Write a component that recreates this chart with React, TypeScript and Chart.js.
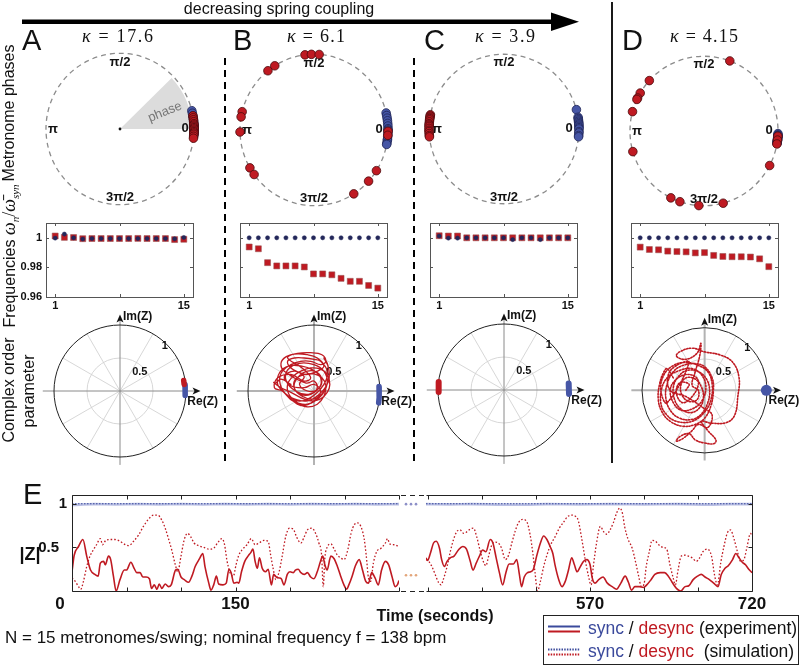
import React, { useEffect, useRef } from "react";
import { Chart, registerables } from "chart.js";

Chart.register(...registerables);

const SANS = '"Liberation Sans", Arial, Helvetica, sans-serif';
const SERIF = '"Liberation Serif", "Times New Roman", serif';
const RED = "#bf1a22";
const RED_EDGE = "#4a0a0c";
const BLUE = "#4656a6";
const BLUE_EDGE = "#1f2556";
const NAVY = "#23275a";

// ---------------- data ----------------
const METRONOMES = [1, 2, 3, 4, 5, 6, 7, 8, 9, 10, 11, 12, 13, 14, 15];
const PHASE_LABELS = ["π/2", "π", "0", "3π/2"];

// metronome phases (degrees)
const PHASE_A_SYNC = [14, 12, 10, 8, 6, 4, 3, 2, 1, 0, -1, -2, -3, -4, -5];
const PHASE_A_DESYNC = [10, 8.5, 7, 5.5, 4, 3, 2, 1, 0, -1, -2, -3, -4, -5.5, -7];
const PHASE_B_SYNC = [13, 11, 9, 7, 5, 3, 1, 0, -1, -3, -5, -7, -8, -10, -11];
const PHASE_B_DESYNC = [97, 92, 86, 128.5, 122, 166, 170, 181.5, 210, 216, 327.5, 317.5, 302.5, -1, -4];
const PHASE_C_SYNC = [15, 9, 8, 7, 6, 5, 4, 3, 2, 1, 0, -2, -3, -5, -6];
const PHASE_C_DESYNC = [169, 170, 171, 172, 173, 174.5, 176, 177, 178, 179.5, 181, 182, 183.5, 185, 186];
const PHASE_D_SYNC = [-2, -3, -3.5, -4, -4.5, -5, -5.5, -6, -6.5, -7, -7.5, -8, -8.5, -9, -9.5];
const PHASE_D_DESYNC = [69.6, 137.6, 149.5, 153.8, 155, 165, 196, 243.4, 251, 266, 285, 332.5, -4, -7, -10];

// frequencies omega_n / mean omega_sync
const FREQ_A_SYNC = [0.9998, 1.0025, 1.0, 0.9992, 0.9995, 0.9995, 0.9995, 0.9995, 0.9995, 0.9995, 0.9995, 0.9995, 0.9995, 0.9993, 1.0002];
const FREQ_A_DESYNC = [1.0012, 1.0003, 1.0002, 0.9994, 0.9995, 0.9995, 0.9995, 0.9995, 0.9995, 0.9996, 0.9995, 0.9995, 0.9995, 0.9988, 0.999];
const FREQ_B_SYNC = [1, 1, 1, 1, 1, 1, 1, 1, 1, 1, 1, 1, 1, 1, 1];
const FREQ_B_DESYNC = [0.9938, 0.9926, 0.9832, 0.981, 0.981, 0.981, 0.9803, 0.9756, 0.9756, 0.975, 0.9726, 0.9706, 0.9706, 0.9678, 0.966];
const FREQ_C_SYNC = [1.0012, 0.9998, 0.9998, 1.0, 1.0, 1.0, 1.0, 1.0, 0.9988, 1.0, 1.0, 0.9988, 1.0, 1.0, 1.0];
const FREQ_C_DESYNC = [1.0014, 1.0012, 1.0012, 1.0, 1.0, 1.0, 1.0, 1.0, 1.0, 1.0, 1.0, 1.0, 1.0, 1.0, 1.0];
const FREQ_D_SYNC = [1, 1, 1, 1, 1, 1, 1, 1, 1, 1, 1, 1, 1, 1, 1];
const FREQ_D_DESYNC = [0.9937, 0.9921, 0.9919, 0.991, 0.9907, 0.9905, 0.9898, 0.99, 0.9881, 0.9874, 0.9872, 0.9872, 0.987, 0.9858, 0.9805];
const FREQ_X_TICKS = [1, 8, 15];
const FREQ_X_LABELS = [1, 15];
const FREQ_Y_TICKS = [0.96, 0.98, 1];
const FREQ_Y_LABELS = ["0.96", "0.98", "1"];

// complex order parameter Z (Re, Im)
const ORDER_A_SYNC = [[0.985, 0.1], [0.99, 0.02], [0.985, -0.07]];
const ORDER_A_DESYNC = [[0.965, 0.16], [0.972, 0.1]];
const ORDER_B_SYNC = [[0.985, 0.07], [0.99, 0.0], [0.985, -0.1], [0.98, -0.18]];
const ORDER_B_DESYNC = [
  [-0.35, 0.1], [-0.5, 0.18], [-0.58, 0.12], [-0.61, 0.13], [-0.5, 0.05], [-0.35, -0.02], [-0.2, -0.1], [-0.05, -0.15],
  [0.1, -0.12], [0.2, -0.02], [0.24, 0.1], [0.2, 0.25], [0.1, 0.33], [-0.05, 0.35], [-0.2, 0.3], [-0.32, 0.22],
  [-0.4, 0.1], [-0.38, -0.05], [-0.25, -0.18], [-0.1, -0.24], [0.05, -0.2], [0.15, -0.08], [0.18, 0.08], [0.12, 0.2],
  [0.0, 0.26], [-0.15, 0.25], [-0.28, 0.18], [-0.3, 0.05], [-0.2, -0.05], [-0.05, -0.05], [0.05, 0.05], [0.0, 0.15],
  [-0.12, 0.12], [-0.45, 0.3], [-0.5, 0.42], [-0.42, 0.52], [-0.25, 0.57], [-0.05, 0.58], [0.12, 0.55], [0.18, 0.45],
  [0.1, 0.4], [-0.05, 0.45], [-0.2, 0.45], [-0.35, 0.4], [-0.48, 0.3], [-0.52, 0.15], [-0.45, -0.02], [-0.3, -0.12],
  [-0.1, -0.15], [0.08, -0.05], [0.22, 0.15], [0.22, 0.35], [0.15, 0.5], [0.2, 0.42], [0.23, 0.25], [0.15, 0.0],
  [0.0, -0.12], [-0.18, -0.08], [-0.3, 0.05], [-0.25, 0.2], [-0.1, 0.3], [0.05, 0.28], [0.12, 0.15], [0.05, 0.02],
  [-0.1, 0.0], [-0.22, 0.1], [-0.15, 0.22], [-0.35, 0.35], [-0.4, 0.45], [-0.3, 0.5], [-0.15, 0.5], [0.0, 0.48], [0.1, 0.45],
  [0.2, 0.3], [0.15, 0.1], [-0.05, -0.1], [-0.25, -0.15], [-0.42, -0.05], [-0.55, 0.1], [-0.52, 0.28], [-0.38, 0.38],
  [-0.2, 0.38], [-0.02, 0.32], [0.1, 0.2], [0.08, 0.05], [-0.08, -0.05], [-0.28, 0.0], [-0.42, 0.15], [-0.4, 0.32],
  [-0.22, 0.42], [0.0, 0.4], [0.15, 0.3], [0.2, 0.12], [0.1, -0.08], [-0.1, -0.2], [-0.32, -0.15], [-0.48, 0.0],
  [-0.6, 0.05], [-0.55, 0.2], [-0.35, 0.25], [-0.15, 0.15], [-0.05, 0.2], [-0.18, 0.35], [-0.4, 0.5], [-0.3, 0.56],
  [-0.1, 0.55], [0.05, 0.5], [0.15, 0.38], [0.05, 0.3], [-0.12, 0.25], [-0.3, 0.3], [-0.45, 0.22], [-0.35, 0.08],
  [-0.15, 0.05], [0.0, 0.1], [0.1, 0.0], [0.0, -0.15], [-0.2, -0.22], [-0.38, -0.1],
];
const ORDER_C_SYNC = [[0.98, 0.1], [0.985, -0.06]];
const ORDER_C_DESYNC = [[-0.99, 0.12], [-0.99, -0.03]];
const ORDER_D_SYNC = [[0.985, 0.0]];
const ORDER_D_DESYNC = [
  [-0.5, 0.2], [-0.6, 0.35], [-0.65, 0.3], [-0.72, 0.1], [-0.74, -0.15], [-0.68, -0.35], [-0.55, -0.5], [-0.35, -0.58],
  [-0.15, -0.55], [0.0, -0.45], [0.1, -0.25], [0.14, 0.0], [0.12, 0.2], [0.0, 0.38], [-0.15, 0.43], [-0.35, 0.4],
  [-0.5, 0.3], [-0.6, 0.1], [-0.62, -0.12], [-0.55, -0.32], [-0.4, -0.45], [-0.2, -0.47], [-0.05, -0.38], [0.05, -0.2],
  [0.08, 0.0], [0.03, 0.18], [-0.1, 0.3], [-0.28, 0.32], [-0.42, 0.22], [-0.5, 0.05], [-0.48, -0.15], [-0.38, -0.3],
  [-0.22, -0.36], [-0.08, -0.28], [-0.02, -0.12], [-0.05, 0.05], [-0.15, 0.18], [-0.3, 0.2], [-0.38, 0.08], [-0.36, -0.08],
  [-0.25, -0.18], [-0.12, -0.15], [-0.1, 0.0], [-0.2, 0.08], [-0.15, 0.3], [-0.08, 0.55], [-0.06, 0.76], [-0.12, 0.6],
  [-0.3, 0.5], [-0.45, 0.55], [-0.4, 0.62], [-0.2, 0.68], [0.0, 0.62], [0.25, 0.57], [0.45, 0.45], [0.55, 0.2],
  [0.53, -0.1], [0.48, -0.4], [0.35, -0.52], [0.1, -0.53], [-0.05, -0.5], [0.05, -0.65], [0.18, -0.8], [0.15, -0.86],
  [0.0, -0.85], [-0.15, -0.8], [-0.25, -0.7], [-0.4, -0.75], [-0.45, -0.82], [-0.35, -0.78], [-0.2, -0.65], [-0.1, -0.55],
  [0.05, -0.6], [0.12, -0.4], [0.0, -0.3], [-0.3, -0.1], [-0.55, 0.0], [-0.58, 0.25], [-0.45, 0.4], [-0.25, 0.45],
  [-0.6, -0.2], [-0.7, 0.0], [-0.65, 0.25], [-0.5, 0.4], [-0.3, 0.45], [-0.1, 0.4], [0.05, 0.3], [0.12, 0.1],
  [0.1, -0.15], [0.0, -0.35], [-0.2, -0.5], [-0.45, -0.5], [-0.62, -0.38], [-0.7, -0.2], [-0.68, 0.05], [-0.58, 0.22],
  [-0.4, 0.32], [-0.2, 0.35], [-0.05, 0.25], [0.02, 0.05], [-0.05, -0.18], [-0.2, -0.3], [-0.38, -0.32], [-0.5, -0.2],
  [-0.55, 0.0], [-0.48, 0.15], [-0.32, 0.25], [-0.15, 0.22], [-0.1, 0.1], [-0.2, -0.1], [-0.35, -0.2], [-0.45, -0.05],
  [-0.4, 0.12], [-0.25, 0.1], [-0.3, 0.0],
];
const POLAR_SPOKES = [30, 60, 120, 150, 210, 240, 300, 330];

// |Z| over time (seconds, |Z|)
const DESYNC_EXP_LEFT = [
  [0, 0.22], [2, 0.41], [6, 0.51], [10, 0.59], [13.5, 0.4], [17, 0.24], [21, 0.19], [24, 0.17], [26, 0.32], [29, 0.34],
  [30.5, 0.3], [33.5, 0.4], [35.5, 0.36], [38, 0.17], [40.5, 0.0], [44, 0.13], [48, 0.24], [50, 0.24], [54, 0.33], [57, 0.26],
  [59.5, 0.21], [62.5, 0.21], [65, 0.16], [68, 0.16], [71, 0.14], [73, 0.03], [75.5, 0.07], [78, 0.02], [80, 0.08], [82.5, 0.03],
  [85.5, 0.08], [88.5, 0.05], [91, 0.07], [95, 0.24], [97, 0.25], [100, 0.16], [103, 0.13], [107, 0.1], [110, 0.17], [113, 0.28],
  [117, 0.37], [120, 0.43], [122, 0.28], [125.5, 0.09], [127.5, 0.01], [130, 0.07], [132.5, 0.17], [134.5, 0.08], [138.5, 0.07],
  [141.5, 0.09], [144, 0.25], [146, 0.21], [148.5, 0.09], [151.5, 0.1], [153, 0.09], [155.5, 0.22], [158.5, 0.34], [161.5, 0.4],
  [164, 0.44], [166, 0.48], [168, 0.34], [170, 0.26], [172, 0.38], [174.5, 0.26], [177.5, 0.22], [180, 0.25], [183, 0.07],
  [185, 0.19], [187.5, 0.16], [190, 0.15], [192, 0.14], [194.5, 0.07], [197.5, 0.19], [200, 0.22], [203, 0.21], [205, 0.24],
  [207.5, 0.25], [210, 0.21], [213, 0.19], [216, 0.21], [219, 0.16], [222, 0.14], [225, 0.22], [228, 0.34], [230, 0.4],
  [232, 0.3], [234, 0.24], [237.5, 0.4], [240.5, 0.37], [243.5, 0.28], [246.5, 0.17], [249.5, 0.07], [252, 0.02], [254, 0.07],
  [257, 0.17], [260, 0.29], [263.5, 0.36], [266.5, 0.24], [269.5, 0.11], [272, 0.09], [275, 0.21], [278, 0.15], [281, 0.07],
  [284, 0.24], [287.5, 0.34], [290.5, 0.3], [293.5, 0.17], [296.5, 0.05], [298.5, 0.07], [300, 0.12],
];
const DESYNC_SIM_LEFT = [
  [0, 0.15], [3, 0.11], [6, 0.05], [8, 0.02], [10.5, 0.11], [13.5, 0.28], [16.5, 0.4], [19.5, 0.47], [22.5, 0.53], [26, 0.6],
  [28, 0.53], [31, 0.58], [35, 0.59], [39.5, 0.59], [44, 0.57], [49, 0.53], [52, 0.52], [56.5, 0.57], [61, 0.64], [65.5, 0.74],
  [70, 0.82], [75, 0.87], [78.5, 0.87], [82.5, 0.81], [85.5, 0.72], [88.5, 0.6], [91.5, 0.47], [95, 0.29], [97, 0.22], [100, 0.4],
  [103, 0.59], [106, 0.66], [109, 0.62], [112, 0.55], [116, 0.52], [121, 0.5], [125.5, 0.48], [130, 0.49], [133.5, 0.55],
  [137.5, 0.6], [140, 0.53], [142, 0.36], [145, 0.21], [148, 0.17], [150.5, 0.3], [153, 0.41], [156, 0.47], [160.5, 0.53],
  [164.5, 0.6], [168, 0.53], [171.5, 0.55], [176, 0.58], [180, 0.57], [182, 0.43], [184.5, 0.26], [187, 0.13], [190, 0.22],
  [193, 0.41], [196, 0.62], [199.5, 0.72], [203, 0.71], [206, 0.62], [210, 0.55], [213, 0.62], [216, 0.7], [220, 0.72],
  [223.5, 0.66], [226.5, 0.55], [229, 0.41], [230.5, 0.05], [232, 0.38], [234.5, 0.51], [237.5, 0.54], [240.5, 0.48],
  [243.5, 0.41], [246.5, 0.38], [249.5, 0.36], [253, 0.47], [256, 0.66], [259, 0.76], [262, 0.78], [265, 0.74], [268, 0.6],
  [270, 0.4], [272, 0.15], [274, 0.11], [276.5, 0.32], [279.5, 0.45], [283.5, 0.49], [287.5, 0.55], [289.5, 0.6], [291.5, 0.54],
  [295.5, 0.53], [300, 0.51],
];
const DESYNC_EXP_RIGHT = [
  [418, 0.38], [419.5, 0.35], [422, 0.43], [425, 0.55], [427.5, 0.57], [430.5, 0.49], [432.5, 0.36], [435, 0.28], [437.5, 0.34],
  [440.5, 0.38], [444, 0.4], [448, 0.47], [452, 0.51], [455.5, 0.48], [459, 0.34], [461.5, 0.24], [464.5, 0.32], [467.5, 0.4],
  [470.5, 0.47], [473.5, 0.45], [477.5, 0.59], [480, 0.55], [483, 0.38], [486, 0.21], [489, 0.07], [492, 0.21], [495, 0.31],
  [499, 0.31], [502, 0.36], [504.5, 0.19], [506.5, 0.05], [509, 0.16], [512, 0.21], [515, 0.22], [517.5, 0.25], [520.5, 0.4],
  [524, 0.55], [527, 0.63], [530, 0.59], [533, 0.51], [535.5, 0.43], [537.5, 0.3], [541, 0.13], [544, 0.05], [547, 0.11],
  [550, 0.24], [553, 0.38], [555.5, 0.3], [558, 0.22], [561, 0.28], [564, 0.34], [567, 0.36], [570, 0.3], [572, 0.15],
  [574.5, 0.09], [578, 0.13], [582, 0.16], [586, 0.09], [590.5, 0.05], [594.5, 0.02], [598.5, 0.09], [602.5, 0.17], [605.5, 0.1],
  [608.5, 0.01], [611.5, 0.05], [615.5, 0.05], [619.5, 0.04], [622.5, 0.07], [626.5, 0.13], [630, 0.19], [635, 0.21], [639, 0.21],
  [642.5, 0.17], [646, 0.1], [650, 0.03], [654, 0.0], [658, 0.05], [661.5, 0.06], [665.5, 0.13], [669.5, 0.17], [673, 0.19],
  [676.5, 0.16], [680.5, 0.13], [684.5, 0.09], [688.5, 0.05], [691.5, 0.19], [695, 0.26], [698, 0.29], [702, 0.36], [705, 0.43],
  [708, 0.38], [711, 0.33], [714, 0.3], [717, 0.25], [720, 0.21],
];
const DESYNC_SIM_RIGHT = [
  [418, 0.36], [420.5, 0.34], [423.5, 0.28], [426.5, 0.19], [429.5, 0.1], [432, 0.07], [434, 0.13], [437.5, 0.28], [440.5, 0.45],
  [443.5, 0.59], [446.5, 0.68], [449.5, 0.7], [453, 0.66], [456, 0.68], [459, 0.71], [462, 0.72], [465, 0.62], [468, 0.47],
  [471, 0.34], [473.5, 0.29], [476, 0.4], [479, 0.53], [482, 0.56], [485, 0.55], [488, 0.49], [491.5, 0.36], [494.5, 0.41],
  [497.5, 0.55], [500.5, 0.68], [503.5, 0.78], [507.5, 0.82], [511.5, 0.79], [514.5, 0.64], [517, 0.43], [519, 0.21], [521.3, 0.0],
  [524, 0.11], [527, 0.28], [530, 0.41], [533.5, 0.53], [537.5, 0.62], [541.5, 0.72], [545.5, 0.79], [549, 0.85], [553, 0.87],
  [557, 0.85], [559, 0.81], [562, 0.62], [565.5, 0.36], [568.5, 0.17], [571, 0.07], [573, 0.28], [576, 0.55], [579.5, 0.74],
  [582.5, 0.68], [585.5, 0.65], [588.5, 0.7], [591.5, 0.78], [594.5, 0.89], [597.5, 0.95], [600, 0.89], [602, 0.74], [605, 0.6],
  [609, 0.49], [612, 0.34], [615, 0.17], [617.5, 0.05], [620, 0.08], [622, 0.28], [624.5, 0.43], [627.5, 0.58], [630.5, 0.57],
  [634.5, 0.52], [637.5, 0.5], [641, 0.48], [644, 0.3], [647, 0.15], [649, 0.07], [651.5, 0.24], [654.5, 0.4], [658, 0.41],
  [661, 0.4], [664.5, 0.38], [668.5, 0.34], [671.5, 0.38], [674.5, 0.45], [678.5, 0.48], [682.5, 0.4], [685.5, 0.17], [688, 0.07],
  [691, 0.32], [694, 0.51], [697, 0.66], [700, 0.7], [703.5, 0.59], [706.5, 0.45], [709.5, 0.34], [712.5, 0.36], [715.5, 0.51],
  [718.5, 0.66], [720, 0.64],
];
const SYNC_EXP_LEFT = [
  [0, 0.985], [8, 0.99], [20, 0.995], [40, 0.992], [60, 0.995], [80, 0.993], [100, 0.995], [120, 0.992], [140, 0.995],
  [160, 0.993], [180, 0.995], [200, 0.992], [220, 0.995], [240, 0.993], [260, 0.995], [280, 0.993], [300, 0.995],
];
const SYNC_SIM_LEFT = [[0, 1.0], [300, 1.0]];
const SYNC_EXP_RIGHT = [
  [418, 0.995], [440, 0.993], [460, 0.995], [490, 0.99], [510, 0.99], [530, 0.995], [560, 0.993], [590, 0.995],
  [620, 0.993], [650, 0.995], [680, 0.99], [700, 0.995], [720, 0.995],
];
const SYNC_SIM_RIGHT = [[418, 1.0], [720, 1.0]];
const E_TICKS_LEFT = [0, 50, 100, 150, 200, 250, 300];
const E_TICKS_RIGHT = [420, 470, 520, 570, 620, 670, 720];
const E_LABELS_LEFT = [150];
const E_LABELS_RIGHT = [570, 720];
const E_Y_TICKS = [0.5, 1];

// ---------------- helpers ----------------
const BASE = {
  responsive: false,
  maintainAspectRatio: false,
  animation: false,
  devicePixelRatio: 1,
  events: [],
  plugins: { legend: { display: false }, tooltip: { enabled: false } },
};

function ChartBox({ x, y, w, h, make }: any) {
  const ref = useRef<HTMLCanvasElement | null>(null);
  useEffect(() => {
    const ch = new Chart(ref.current as HTMLCanvasElement, make());
    return () => ch.destroy();
  }, []);
  return (
    <canvas ref={ref} width={w} height={h} style={{ position: "absolute", left: x, top: y, width: w, height: h }} />
  );
}

const rad = (d: number) => (d * Math.PI) / 180;

function makePhase(sync: number[], desync: number[], rx: number, ry: number, wedge: boolean) {
  const W = 200, H = 190;
  const pts = (a: number[]) => a.map((d) => ({ x: Math.cos(rad(d)), y: Math.sin(rad(d)) }));
  return {
    type: "scatter",
    data: {
      datasets: [
        // index 0 is drawn on top
        { data: pts(desync), backgroundColor: RED, borderColor: RED_EDGE, borderWidth: 0.8, pointRadius: 4.3 },
        { data: pts(sync), backgroundColor: BLUE, borderColor: BLUE_EDGE, borderWidth: 0.8, pointRadius: 4.3 },
      ],
    },
    options: {
      ...BASE,
      layout: { padding: 0 },
      scales: {
        x: { type: "linear", display: false, min: -W / 2 / rx, max: W / 2 / rx },
        y: { type: "linear", display: false, min: -H / 2 / ry, max: H / 2 / ry },
      },
    },
    plugins: [
      {
        id: "phaseDeco",
        beforeDatasetsDraw(chart: any) {
          const ctx = chart.ctx;
          const xs = chart.scales.x, ys = chart.scales.y;
          const cx = xs.getPixelForValue(0), cy = ys.getPixelForValue(0);
          const px = xs.getPixelForValue(1) - cx, py = cy - ys.getPixelForValue(1);
          ctx.save();
          if (wedge) {
            ctx.fillStyle = "#dcdcdc";
            ctx.beginPath();
            ctx.moveTo(cx, cy);
            ctx.ellipse(cx, cy, px * 0.97, py * 0.97, 0, -rad(44), 0);
            ctx.closePath();
            ctx.fill();
            ctx.fillStyle = "#111";
            ctx.beginPath();
            ctx.arc(cx, cy, 1.4, 0, Math.PI * 2);
            ctx.fill();
            ctx.save();
            ctx.translate(cx + 45, cy - 17);
            ctx.rotate(-rad(22));
            ctx.fillStyle = "#777";
            ctx.font = `13px ${SANS}`;
            ctx.textAlign = "center";
            ctx.textBaseline = "middle";
            ctx.fillText("phase", 0, 0);
            ctx.restore();
          }
          ctx.setLineDash([5, 4]);
          ctx.strokeStyle = "#8c8c8c";
          ctx.lineWidth = 1.3;
          ctx.beginPath();
          ctx.ellipse(cx, cy, px, py, 0, 0, Math.PI * 2);
          ctx.stroke();
          ctx.setLineDash([]);
          ctx.fillStyle = "#111";
          ctx.font = `bold 13px ${SANS}`;
          ctx.textAlign = "center";
          ctx.textBaseline = "middle";
          ctx.fillText(PHASE_LABELS[0], cx, cy - 67);
          ctx.fillText(PHASE_LABELS[1], cx - 67, cy);
          ctx.fillText(PHASE_LABELS[2], cx + 65, cy - 1);
          ctx.fillText(PHASE_LABELS[3], cx, cy + 68);
          ctx.restore();
        },
      },
    ],
  };
}

function makeFreq(sync: number[], desync: number[], yLabels: boolean) {
  return {
    type: "scatter",
    data: {
      datasets: [
        {
          data: METRONOMES.map((m, i) => ({ x: m, y: sync[i] })),
          pointStyle: "circle",
          pointRadius: 2.1,
          backgroundColor: NAVY,
          borderColor: NAVY,
          borderWidth: 0.5,
        },
        {
          data: METRONOMES.map((m, i) => ({ x: m, y: desync[i] })),
          pointStyle: "rect",
          pointRadius: 4.2,
          backgroundColor: RED,
          borderColor: "rgba(150,80,80,0.55)",
          borderWidth: 1,
        },
      ],
    },
    options: {
      ...BASE,
      layout: { padding: { left: 46, top: 10, right: 12, bottom: 20 } },
      scales: {
        x: { type: "linear", display: false, min: 0, max: 16 },
        y: { type: "linear", display: false, min: 0.96, max: 1.01 },
      },
    },
    plugins: [
      {
        id: "freqFrame",
        afterDraw(chart: any) {
          const ctx = chart.ctx;
          const a = chart.chartArea;
          const xs = chart.scales.x, ys = chart.scales.y;
          ctx.save();
          ctx.strokeStyle = "#555";
          ctx.lineWidth = 1;
          ctx.strokeRect(Math.round(a.left) + 0.5, Math.round(a.top) + 0.5, Math.round(a.right - a.left), Math.round(a.bottom - a.top));
          ctx.beginPath();
          for (const t of FREQ_X_TICKS) {
            const x = Math.round(xs.getPixelForValue(t)) + 0.5;
            ctx.moveTo(x, a.top); ctx.lineTo(x, a.top + 3);
            ctx.moveTo(x, a.bottom); ctx.lineTo(x, a.bottom - 3);
          }
          for (const t of FREQ_Y_TICKS) {
            const y = Math.round(ys.getPixelForValue(t)) + 0.5;
            ctx.moveTo(a.left, y); ctx.lineTo(a.left + 3, y);
            ctx.moveTo(a.right, y); ctx.lineTo(a.right - 3, y);
          }
          ctx.stroke();
          ctx.fillStyle = "#111";
          ctx.font = `bold 11px ${SANS}`;
          ctx.textAlign = "center";
          ctx.textBaseline = "middle";
          for (const t of FREQ_X_LABELS) ctx.fillText(String(t), xs.getPixelForValue(t), a.bottom + 9);
          if (yLabels) {
            ctx.textAlign = "right";
            FREQ_Y_TICKS.forEach((t, i) => ctx.fillText(FREQ_Y_LABELS[i], a.left - 4, ys.getPixelForValue(t)));
          }
          ctx.restore();
        },
      },
    ],
  };
}

const seg = (pts: number[][], color: string, width: number) => ({
  data: pts.map(([x, y]) => ({ x, y })),
  showLine: true,
  borderColor: color,
  backgroundColor: color,
  borderWidth: width,
  borderCapStyle: "round",
  pointRadius: 0,
});

function makePolar(datasets: any[], heavy: boolean) {
  const R = 66;
  return {
    type: "scatter",
    data: { datasets },
    options: {
      ...BASE,
      layout: { padding: 0 },
      scales: {
        x: { type: "linear", display: false, min: -95 / R, max: 120 / R },
        y: { type: "linear", display: false, min: -95 / R, max: 85 / R },
      },
    },
    plugins: [
      {
        id: "polarDeco",
        beforeDatasetsDraw(chart: any) {
          const ctx = chart.ctx;
          const xs = chart.scales.x, ys = chart.scales.y;
          const cx = xs.getPixelForValue(0), cy = ys.getPixelForValue(0);
          const r = xs.getPixelForValue(1) - cx;
          ctx.save();
          ctx.strokeStyle = "#d2d2d2";
          ctx.lineWidth = 0.9;
          ctx.beginPath();
          for (const d of POLAR_SPOKES) {
            ctx.moveTo(cx, cy);
            ctx.lineTo(cx + r * Math.cos(rad(d)), cy - r * Math.sin(rad(d)));
          }
          ctx.stroke();
          ctx.beginPath();
          ctx.arc(cx, cy, r * 0.5, 0, Math.PI * 2);
          ctx.stroke();
          ctx.strokeStyle = heavy ? "#b3b3b3" : "#8a8a8a";
          ctx.lineWidth = heavy ? 2 : 1;
          ctx.beginPath();
          ctx.moveTo(cx - 1.17 * r, cy); ctx.lineTo(cx + 1.16 * r, cy);
          ctx.moveTo(cx, cy + 1.12 * r); ctx.lineTo(cx, cy - 1.1 * r);
          ctx.stroke();
          ctx.strokeStyle = "#222";
          ctx.lineWidth = 1;
          ctx.beginPath();
          ctx.arc(cx, cy, r, 0, Math.PI * 2);
          ctx.stroke();
          ctx.fillStyle = "#111";
          ctx.beginPath();
          ctx.moveTo(cx + 1.22 * r, cy);
          ctx.lineTo(cx + 1.22 * r - 8, cy - 3.5);
          ctx.lineTo(cx + 1.22 * r - 6, cy);
          ctx.lineTo(cx + 1.22 * r - 8, cy + 3.5);
          ctx.closePath();
          ctx.fill();
          ctx.beginPath();
          ctx.moveTo(cx, cy - 1.16 * r);
          ctx.lineTo(cx - 3.5, cy - 1.16 * r + 8);
          ctx.lineTo(cx, cy - 1.16 * r + 6);
          ctx.lineTo(cx + 3.5, cy - 1.16 * r + 8);
          ctx.closePath();
          ctx.fill();
          ctx.font = `bold 12px ${SANS}`;
          ctx.textAlign = "left";
          ctx.textBaseline = "middle";
          ctx.fillText("Im(Z)", cx + 3, cy - 1.12 * r);
          ctx.fillText("Re(Z)", cx + 1.02 * r, cy + 0.16 * r);
          ctx.font = `bold 11px ${SANS}`;
          ctx.textAlign = "center";
          ctx.fillText("0.5", cx + 0.3 * r, cy - 0.29 * r);
          ctx.fillText("1", cx + 0.68 * r, cy - 0.68 * r);
          ctx.restore();
        },
      },
    ],
  };
}

const tline = (pts: number[][], color: string, width: number, dash: number[]) => ({
  data: pts.map(([x, y]) => ({ x, y })),
  showLine: true,
  borderColor: color,
  borderWidth: width,
  borderDash: dash,
  pointRadius: 0,
  cubicInterpolationMode: "monotone",
  fill: false,
});

function makeE(left: boolean) {
  return {
    type: "scatter",
    data: {
      datasets: [
        // index 0 is drawn on top
        tline(left ? DESYNC_EXP_LEFT : DESYNC_EXP_RIGHT, RED, 1.6, []),
        tline(left ? DESYNC_SIM_LEFT : DESYNC_SIM_RIGHT, RED, 1.3, [1.6, 2]),
        tline(left ? SYNC_SIM_LEFT : SYNC_SIM_RIGHT, "#3b4a9c", 1.2, [1.5, 1.5]),
        tline(left ? SYNC_EXP_LEFT : SYNC_EXP_RIGHT, "rgba(130,140,205,0.55)", 2.6, []),
      ],
    },
    options: {
      ...BASE,
      layout: { padding: left ? { left: 72, right: 1, top: 10, bottom: 24 } : { left: 26, right: 50, top: 10, bottom: 74 } },
      scales: {
        x: { type: "linear", display: false, min: left ? 0 : 418, max: left ? 300 : 720 },
        y: { type: "linear", display: false, min: 0, max: 1.1 },
      },
    },
    plugins: [
      {
        id: "eFrame",
        afterDraw(chart: any) {
          const ctx = chart.ctx;
          const a = chart.chartArea;
          const xs = chart.scales.x, ys = chart.scales.y;
          const top = Math.round(a.top) + 0.5, bot = Math.round(a.bottom) + 0.5;
          const l = Math.round(a.left) + 0.5, r = Math.round(a.right) + 0.5;
          ctx.save();
          ctx.strokeStyle = "#222";
          ctx.lineWidth = 1;
          ctx.beginPath();
          ctx.moveTo(l, top); ctx.lineTo(r, top);
          ctx.moveTo(l, bot); ctx.lineTo(r, bot);
          if (left) { ctx.moveTo(l, top); ctx.lineTo(l, bot); }
          else { ctx.moveTo(r, top); ctx.lineTo(r, bot); }
          const ticks = left ? E_TICKS_LEFT : E_TICKS_RIGHT;
          for (const t of ticks) {
            const x = Math.round(xs.getPixelForValue(t)) + 0.5;
            ctx.moveTo(x, top); ctx.lineTo(x, top + 4);
            ctx.moveTo(x, bot); ctx.lineTo(x, bot - 4);
          }
          for (const t of E_Y_TICKS) {
            const y = Math.round(ys.getPixelForValue(t)) + 0.5;
            const ex = left ? l : r;
            ctx.moveTo(ex, y); ctx.lineTo(left ? ex + 4 : ex - 4, y);
          }
          ctx.stroke();
          ctx.fillStyle = "#111";
          ctx.font = `bold 17px ${SANS}`;
          ctx.textAlign = "center";
          ctx.textBaseline = "alphabetic";
          const labels = left ? E_LABELS_LEFT : E_LABELS_RIGHT;
          for (const t of labels) ctx.fillText(String(t), xs.getPixelForValue(t), a.bottom + 18);
          if (left) {
            ctx.fillText("0", a.left - 12, a.bottom + 18);
            ctx.font = `bold 15px ${SANS}`;
            ctx.textAlign = "right";
            ctx.textBaseline = "middle";
            ctx.fillText("1", a.left - 5, ys.getPixelForValue(1));
            ctx.fillText("0.5", a.left - 13, ys.getPixelForValue(0.5));
          } else {
            // broken-axis gap
            ctx.setLineDash([5, 4]);
            ctx.beginPath();
            ctx.moveTo(1, top); ctx.lineTo(a.left - 2, top);
            ctx.moveTo(1, bot); ctx.lineTo(a.left - 2, bot);
            ctx.stroke();
            ctx.setLineDash([]);
            for (let i = 0; i < 3; i++) {
              ctx.fillStyle = "#8d90c8";
              ctx.beginPath(); ctx.arc(6 + i * 5, ys.getPixelForValue(0.995), 1.3, 0, Math.PI * 2); ctx.fill();
              ctx.fillStyle = "#e3a57a";
              ctx.beginPath(); ctx.arc(6 + i * 5, ys.getPixelForValue(0.18), 1.3, 0, Math.PI * 2); ctx.fill();
            }
            // legend
            const bx = 143.5, by = 130.5, bw = 255, bh = 49;
            ctx.strokeStyle = "#222";
            ctx.lineWidth = 1;
            ctx.strokeRect(bx, by, bw, bh);
            const rows = [
              { y: 144, dash: [] as number[], tail: " (experiment)" },
              { y: 167, dash: [1.5, 1.2], tail: "  (simulation)" },
            ];
            ctx.font = `17.5px ${SANS}`;
            ctx.textAlign = "left";
            ctx.textBaseline = "middle";
            for (const row of rows) {
              ctx.setLineDash(row.dash);
              ctx.lineWidth = 2;
              ctx.strokeStyle = "#3b4a9c";
              ctx.beginPath(); ctx.moveTo(148, row.y - 2.5); ctx.lineTo(180, row.y - 2.5); ctx.stroke();
              ctx.strokeStyle = RED;
              ctx.beginPath(); ctx.moveTo(148, row.y + 2.5); ctx.lineTo(180, row.y + 2.5); ctx.stroke();
              ctx.setLineDash([]);
              let x = 188;
              const parts: [string, string][] = [["sync", "#3b4a9c"], [" / ", "#111"], ["desync", RED], [row.tail, "#111"]];
              for (const [t, c] of parts) {
                ctx.fillStyle = c;
                ctx.fillText(t, x, row.y);
                x += ctx.measureText(t).width;
              }
            }
          }
          ctx.restore();
        },
      },
    ],
  };
}

// ---------------- layout ----------------
const PHASES = [
  { cx: 120, cy: 129, rx: 78, ry: 80, sync: PHASE_A_SYNC, desync: PHASE_A_DESYNC, wedge: true },
  { cx: 314, cy: 130, rx: 78, ry: 80, sync: PHASE_B_SYNC, desync: PHASE_B_DESYNC, wedge: false },
  { cx: 504, cy: 129, rx: 79, ry: 79, sync: PHASE_C_SYNC, desync: PHASE_C_DESYNC, wedge: false },
  { cx: 704, cy: 131, rx: 78, ry: 79, sync: PHASE_D_SYNC, desync: PHASE_D_DESYNC, wedge: false },
];
const FREQS = [
  { left: 46, sync: FREQ_A_SYNC, desync: FREQ_A_DESYNC, labels: true },
  { left: 240, sync: FREQ_B_SYNC, desync: FREQ_B_DESYNC, labels: false },
  { left: 430, sync: FREQ_C_SYNC, desync: FREQ_C_DESYNC, labels: false },
  { left: 631, sync: FREQ_D_SYNC, desync: FREQ_D_DESYNC, labels: false },
];
const POLARS = [
  {
    cx: 120, cy: 391, heavy: false,
    sets: () => [seg(ORDER_A_DESYNC, RED, 5.5), seg(ORDER_A_SYNC, BLUE, 5.5)],
  },
  {
    cx: 314, cy: 391, heavy: true,
    sets: () => [seg(ORDER_B_SYNC, BLUE, 5.5), { ...seg(ORDER_B_DESYNC, RED, 1.3), tension: 0.4 }],
  },
  {
    cx: 504, cy: 390, heavy: false,
    sets: () => [seg(ORDER_C_DESYNC, RED, 6), seg(ORDER_C_SYNC, BLUE, 6)],
  },
  {
    cx: 704, cy: 390, heavy: true,
    sets: () => [
      { data: ORDER_D_SYNC.map(([x, y]) => ({ x, y })), pointRadius: 5.5, backgroundColor: BLUE, borderColor: BLUE, borderWidth: 0 },
      { ...seg(ORDER_D_DESYNC, RED, 1.6), tension: 0.4, borderDash: [1.4, 1.6] },
    ],
  },
];
const PANEL_LETTERS = [
  { t: "A", x: 22, y: 50 },
  { t: "B", x: 233, y: 50 },
  { t: "C", x: 424, y: 50 },
  { t: "D", x: 622, y: 50 },
  { t: "E", x: 23, y: 504 },
];
const KAPPAS = [
  { v: "17.6", x: 82, w: 71 },
  { v: "6.1", x: 287, w: 58 },
  { v: "3.9", x: 475, w: 60 },
  { v: "4.15", x: 670, w: 68 },
];

export default function App() {
  return (
    <div style={{ position: "fixed", left: 0, top: 0, width: 802, height: 665, background: "#fff", overflow: "hidden" }}>
      {PHASES.map((p, i) => (
        <ChartBox key={"p" + i} x={p.cx - 100} y={p.cy - 95} w={200} h={190}
          make={() => makePhase(p.sync, p.desync, p.rx, p.ry, p.wedge)} />
      ))}
      {FREQS.map((f, i) => (
        <ChartBox key={"f" + i} x={f.left - 46} y={213} w={205} h={104}
          make={() => makeFreq(f.sync, f.desync, f.labels)} />
      ))}
      {POLARS.map((p, i) => (
        <ChartBox key={"o" + i} x={p.cx - 95} y={p.cy - 85} w={215} h={180}
          make={() => makePolar(p.sets(), p.heavy)} />
      ))}
      <ChartBox x={0} y={485} w={400} h={130} make={() => makeE(true)} />
      <ChartBox x={400} y={485} w={402} h={180} make={() => makeE(false)} />
      <svg width={802} height={665} style={{ position: "absolute", left: 0, top: 0, pointerEvents: "none" }} fontFamily={SANS}>
        <text x={279} y={14} fontSize={16} textAnchor="middle" fill="#111">decreasing spring coupling</text>
        <line x1={22} y1={21.7} x2={556} y2={21.7} stroke="#000" strokeWidth={4.5} />
        <polygon points="551,12.5 579,21.7 551,31" fill="#000" />
        <line x1={612} y1={2} x2={612} y2={463} stroke="#000" strokeWidth={1.8} />
        <line x1={225} y1={58} x2={225} y2={462} stroke="#000" strokeWidth={2} strokeDasharray="7 5" />
        <line x1={414} y1={58} x2={414} y2={462} stroke="#000" strokeWidth={2} strokeDasharray="7 5" />
        {PANEL_LETTERS.map((p) => (
          <text key={p.t} x={p.x} y={p.y} fontSize={29} fill="#111">{p.t}</text>
        ))}
        {KAPPAS.map((k) => (
          <text key={k.v} x={k.x} y={42} fontFamily={SERIF} fontSize={18} textLength={k.w} lengthAdjust="spacing" fill="#111">
            <tspan fontStyle="italic">κ</tspan>{" = " + k.v}
          </text>
        ))}
        <text transform="translate(14,113) rotate(-90)" textAnchor="middle" fontSize={16} fill="#111">Metronome phases</text>
        <text transform="translate(15,256) rotate(-90)" textAnchor="middle" fontSize={16} fill="#111">
          {"Frequencies "}
          <tspan fontFamily={SERIF} fontStyle="italic" fontSize={18}>ω</tspan>
          <tspan fontFamily={SERIF} fontStyle="italic" fontSize={11} dy={4}>n</tspan>
          <tspan fontFamily={SERIF} fontSize={18} dy={-4}>/</tspan>
          <tspan fontFamily={SERIF} fontStyle="italic" fontSize={18}>ω̄</tspan>
          <tspan fontFamily={SERIF} fontStyle="italic" fontSize={11} dy={4}>syn</tspan>
        </text>
        <text transform="translate(14,390) rotate(-90)" textAnchor="middle" fontSize={16} fill="#111">Complex order</text>
        <text transform="translate(34,391) rotate(-90)" textAnchor="middle" fontSize={16} fill="#111">parameter</text>
        <text x={30} y={560} fontSize={18} fontWeight="bold" textAnchor="middle" fill="#111">|Z|</text>
        <text x={435} y={621} fontSize={16} fontWeight="bold" textAnchor="middle" fill="#111">Time (seconds)</text>
        <text x={5} y={643} fontSize={17} fill="#111">N = 15 metronomes/swing; nominal frequency f = 138 bpm</text>
      </svg>
    </div>
  );
}
